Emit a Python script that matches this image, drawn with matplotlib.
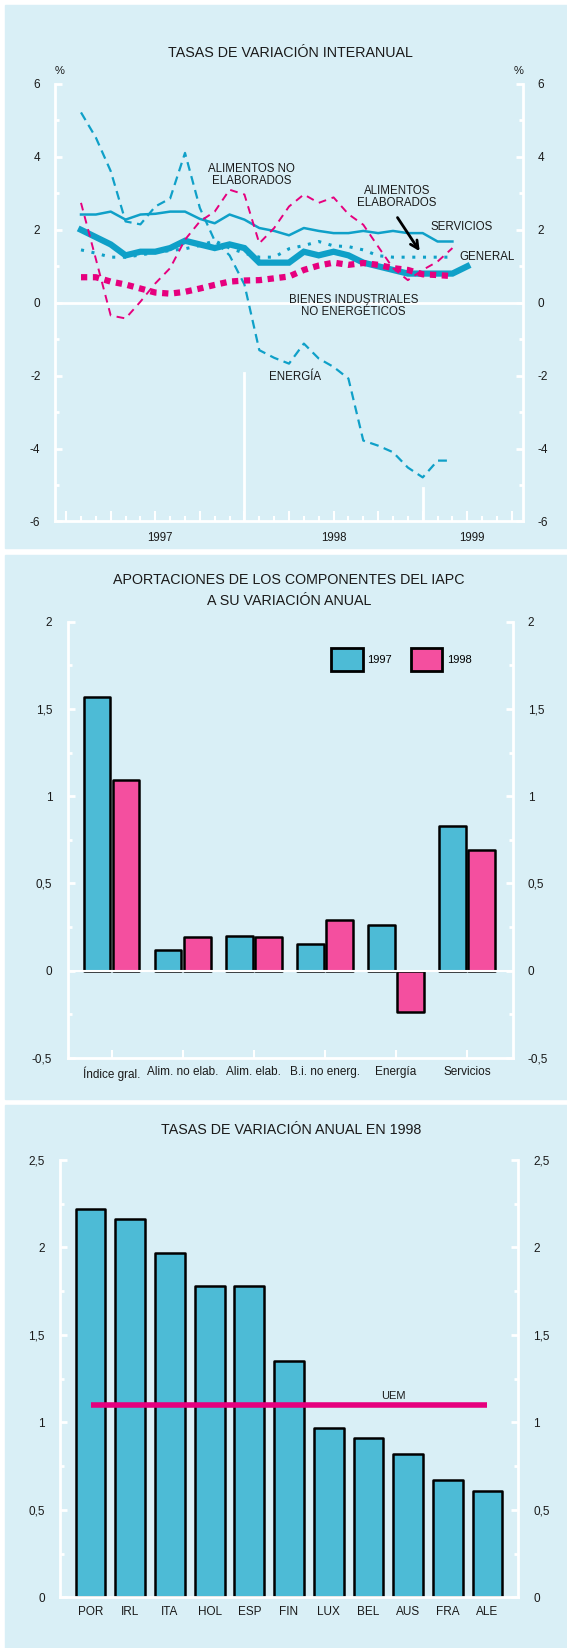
import numpy as np
import matplotlib.pyplot as plt
from matplotlib.patches import Rectangle, Patch

plt.rcParams['font.family'] = ['Liberation Sans', 'DejaVu Sans']

W, H = 567, 1648
BG = '#d9eff6'
CYAN = '#0fa0c8'
PINK = '#e6007e'
BAR_CYAN = '#4dbbd6'
BAR_PINK = '#f44f9f'
TXT = '#1a1a1a'

# chart 1: tasas de variacion interanual, ene 1997 - mar 1999
general = [2.0, 1.8, 1.6, 1.3, 1.4, 1.4, 1.5, 1.7, 1.6, 1.5, 1.6, 1.5, 1.1, 1.1,
           1.1, 1.4, 1.3, 1.4, 1.3, 1.1, 1.0, 0.9, 0.8, 0.8, 0.8, 0.8, 1.0]
servicios = [2.42, 2.42, 2.5, 2.28, 2.42, 2.44, 2.5, 2.5, 2.3, 2.18, 2.42, 2.28, 2.05,
             1.97, 1.85, 2.05, 1.97, 1.91, 1.91, 1.97, 1.91, 1.97, 1.91, 1.91, 1.68, 1.68]
energia = [5.22, 4.53, 3.61, 2.23, 2.15, 2.64, 2.86, 4.11, 2.6, 1.7, 1.3, 0.5, -1.3,
           -1.51, -1.67, -1.12, -1.53, -1.76, -2.08, -3.78, -3.92, -4.1, -4.52, -4.79, -4.33, -4.33]
alim_elab = [1.45, 1.36, 1.25, 1.25, 1.31, 1.38, 1.43, 1.48, 1.57, 1.70, 1.5, 1.36, 1.25,
             1.25, 1.48, 1.57, 1.68, 1.56, 1.54, 1.45, 1.29, 1.25, 1.25, 1.25, 1.25, 1.25]
alim_no_elab = [2.74, 1.2, -0.35, -0.43, 0.03, 0.53, 0.95, 1.73, 2.23, 2.5, 3.1, 2.97, 1.63,
                2.05, 2.64, 2.97, 2.74, 2.89, 2.43, 2.14, 1.54, 0.95, 0.62, 0.9, 1.13, 1.5]
bienes_ind = [0.7, 0.7, 0.58, 0.5, 0.39, 0.28, 0.25, 0.3, 0.39, 0.49, 0.58, 0.61, 0.62,
              0.67, 0.72, 0.9, 1.02, 1.1, 1.04, 1.09, 1.04, 0.95, 0.9, 0.78, 0.76, 0.73]
years = ['1997', '1998', '1999']

# chart 2: aportaciones
componentes = ['Índice gral.', 'Alim. no elab.', 'Alim. elab.', 'B.i. no energ.', 'Energía', 'Servicios']
aport_1997 = [1.57, 0.12, 0.20, 0.15, 0.26, 0.83]
aport_1998 = [1.09, 0.19, 0.19, 0.29, -0.24, 0.69]

# chart 3: tasas 1998 por pais
paises = ['POR', 'IRL', 'ITA', 'HOL', 'ESP', 'FIN', 'LUX', 'BEL', 'AUS', 'FRA', 'ALE']
tasas_1998 = [2.22, 2.16, 1.97, 1.78, 1.78, 1.35, 0.97, 0.91, 0.82, 0.67, 0.61]
uem_1998 = 1.1


fig = plt.figure(figsize=(W / 100, H / 100), dpi=100)


def px_axes(x0, y0, x1, y1):
    ax = fig.add_axes([x0 / W, 1 - y1 / H, (x1 - x0) / W, (y1 - y0) / H])
    ax.set_facecolor('none')
    return ax


def ftext(x, y, s, **kw):
    kw.setdefault('color', TXT)
    kw.setdefault('ha', 'center')
    kw.setdefault('va', 'center')
    fig.text(x / W, 1 - y / H, s, **kw)


def panel(y0, y1):
    fig.add_artist(Rectangle((5 / W, 1 - y1 / H), (W - 5) / W, (y1 - y0) / H,
                             transform=fig.transFigure, color=BG, zorder=0))


def frame(ax, pad):
    for s in ['left', 'right', 'bottom']:
        ax.spines[s].set_color('white')
        ax.spines[s].set_linewidth(2)
    ax.spines['top'].set_visible(False)
    ax.tick_params(axis='y', which='both', direction='in', color='white', width=2,
                   left=True, right=True, labelleft=True, labelright=True,
                   labelsize=8.5, labelcolor=TXT, pad=pad)
    ax.tick_params(axis='y', which='major', length=5)
    ax.tick_params(axis='y', which='minor', length=2.6)


panel(5, 548)
panel(555, 1099)
panel(1105, 1648)

# ---------------- chart 1
ax1 = px_axes(55, 84, 523, 521.5)
m = np.arange(1, 28)
ax1.plot(m[:26], energia, color=CYAN, lw=1.6, dashes=(4, 2.5))
ax1.plot(m[:26], servicios, color=CYAN, lw=1.8)
ax1.plot(m, general, color=CYAN, lw=4.5, solid_joinstyle='miter')
ax1.plot(m[:26], alim_elab, color=CYAN, lw=2.2, dashes=(1, 2.5))
ax1.plot(m[:26], alim_no_elab, color=PINK, lw=1.4, dashes=(4, 3))
ax1.plot(m[:26], bienes_ind, color=PINK, lw=4.5, dashes=(1, 0.9))
ax1.axhline(0, color='white', lw=2, zorder=1)
ax1.plot([12, 12], [-6, -1.92], color='white', lw=2, zorder=1)
ax1.plot([24, 24], [-6, -5.07], color='white', lw=2, zorder=1)
ax1.set_xlim(-0.75, 30.75)
ax1.set_ylim(-6, 6)
frame(ax1, 10.5)
ax1.set_yticks(range(-6, 7, 2))
ax1.set_yticklabels([str(v) for v in range(-6, 7, 2)])
ax1.set_yticks(range(-5, 6, 2), minor=True)
ax1.set_xticks(range(0, 31, 3))
ax1.set_xticks(range(0, 31), minor=True)
ax1.tick_params(axis='x', which='both', direction='in', color='white', width=1.5,
                labelbottom=False)
ax1.tick_params(axis='x', which='major', length=7)
ax1.tick_params(axis='x', which='minor', length=3.6)
for yr, xm in zip(years, [6.3, 18, 27.3]):
    ax1.text(xm, -6.45, yr, ha='center', va='center', fontsize=8.3, color=TXT)

lab = dict(fontsize=8.3, color=TXT, ha='center', va='center', linespacing=1.05)
ax1.text(12.5, 3.5, 'ALIMENTOS NO\nELABORADOS', **lab)
ax1.text(22.25, 2.9, 'ALIMENTOS\nELABORADOS', **lab)
ax1.text(24.5, 2.08, 'SERVICIOS', **{**lab, 'ha': 'left'})
ax1.text(26.47, 1.26, 'GENERAL', **{**lab, 'ha': 'left'})
ax1.text(19.33, -0.09, 'BIENES INDUSTRIALES\nNO ENERGÉTICOS', **lab)
ax1.text(15.4, -2.05, 'ENERGÍA', **lab)
ax1.annotate('', xy=(23.9, 1.35), xytext=(22.2, 2.4),
             arrowprops=dict(arrowstyle='->', lw=2, color='black', mutation_scale=14))

ftext(290.5, 53, 'TASAS DE VARIACIÓN INTERANUAL', fontsize=10.3)
ftext(59.6, 71.5, '%', fontsize=8)
ftext(519, 71.5, '%', fontsize=8)

# ---------------- chart 2
ax2 = px_axes(67.5, 621.7, 512.6, 1057.7)
x = np.arange(len(componentes))
ax2.bar(x - 0.205, aport_1997, width=0.375, color=BAR_CYAN, edgecolor='black',
        lw=1.8, joinstyle='round', zorder=2)
ax2.bar(x + 0.205, aport_1998, width=0.375, color=BAR_PINK, edgecolor='black',
        lw=1.8, joinstyle='round', zorder=2)
ax2.axhline(0, color='white', lw=1.5, zorder=3)
ax2.set_xlim(-0.62, 5.64)
ax2.set_ylim(-0.5, 2)
frame(ax2, 11)
yt = [-0.5, 0, 0.5, 1, 1.5, 2]
ax2.set_yticks(yt)
ax2.set_yticklabels(['-0,5', '0', '0,5', '1', '1,5', '2'])
ax2.set_yticks(np.arange(-0.25, 2, 0.5), minor=True)
ax2.set_xticks(x)
ax2.set_xticklabels(componentes)
ax2.tick_params(axis='x', direction='in', color='white', width=1.5, length=5.8,
                labelsize=8.5, labelcolor=TXT, pad=6)
ax2.legend(handles=[Patch(facecolor=BAR_CYAN, edgecolor='black', lw=2, label='1997'),
                    Patch(facecolor=BAR_PINK, edgecolor='black', lw=2, label='1998')],
           loc='upper left', bbox_to_anchor=(0.593, 0.939), ncol=2, frameon=False,
           fontsize=8, handlelength=2.8, handleheight=2.8, handletextpad=0.45,
           columnspacing=1.7, borderpad=0, borderaxespad=0)

ftext(289, 580, 'APORTACIONES DE LOS COMPONENTES DEL IAPC', fontsize=10.3)
ftext(289, 600.7, 'A SU VARIACIÓN ANUAL', fontsize=10.3)

# ---------------- chart 3
ax3 = px_axes(60.3, 1160, 518, 1597.3)
xp = np.arange(len(paises))
ax3.bar(xp, tasas_1998, width=0.75, color=BAR_CYAN, edgecolor='black', lw=1.8,
        joinstyle='round', zorder=2)
ax3.plot([xp[0], xp[-1]], [uem_1998, uem_1998], color=PINK, lw=4,
         solid_capstyle='butt', zorder=4)
ax3.text(7.62, uem_1998 + 0.048, 'UEM', fontsize=8, color=TXT, ha='center', va='center')
ax3.set_xlim(-0.764, 10.77)
ax3.set_ylim(0, 2.5)
frame(ax3, 11)
ax3.set_yticks([0, 0.5, 1, 1.5, 2, 2.5])
ax3.set_yticklabels(['0', '0,5', '1', '1,5', '2', '2,5'])
ax3.set_yticks(np.arange(0.25, 2.5, 0.5), minor=True)
ax3.set_xticks(xp)
ax3.set_xticklabels(paises)
ax3.tick_params(axis='x', direction='in', color='white', width=1.5, length=7,
                labelsize=8.5, labelcolor=TXT, pad=6)

ftext(291.5, 1130, 'TASAS DE VARIACIÓN ANUAL EN 1998', fontsize=10.3)

fig.savefig('out.png', dpi=100, facecolor='white')
